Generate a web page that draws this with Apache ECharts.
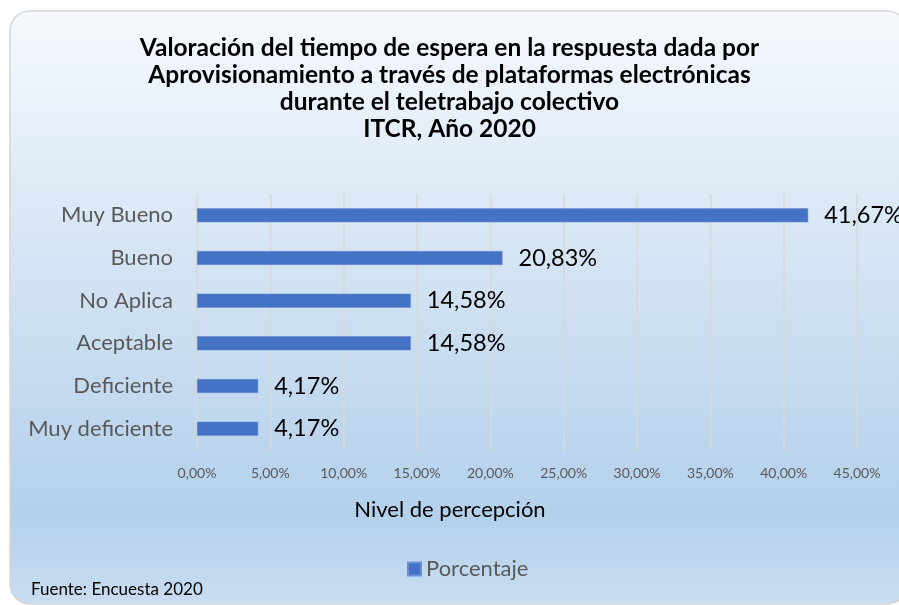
<!DOCTYPE html>
<html>
<head>
<meta charset="utf-8">
<script src="https://cdn.jsdelivr.net/npm/echarts@6/dist/echarts.min.js"></script>
<style>
  html, body { margin: 0; padding: 0; background: #fff; }
  #chart { width: 899px; height: 605px; }
</style>
</head>
<body>
<div id="chart"></div>
<script>
// Data
const categories = ['Muy Bueno', 'Bueno', 'No Aplica', 'Aceptable', 'Deficiente', 'Muy deficiente'];
const porcentaje = [41.67, 20.83, 14.58, 14.58, 4.17, 4.17];
const titleLines = [
  'Valoración del tiempo de espera en la respuesta dada por',
  'Aprovisionamiento a través de plataformas electrónicas',
  'durante el teletrabajo colectivo',
  'ITCR, Año 2020'
];
const seriesName = 'Porcentaje';
const axisName = 'Nivel de percepción';
const sourceNote = 'Fuente: Encuesta 2020';

const FONT = 'Lato, "Open Sans", sans-serif';
const fmt = v => v.toFixed(2).replace('.', ',') + '%';

const chart = echarts.init(document.getElementById('chart'));

chart.setOption({
  animation: false,
  textStyle: { fontFamily: FONT },
  graphic: [
    {
      type: 'rect',
      z: -10,
      silent: true,
      shape: { x: 10, y: 11, width: 897, height: 593, r: 20 },
      style: {
        fill: new echarts.graphic.LinearGradient(0, 0, 0, 1, [
          { offset: 0, color: '#F6F9FD' },
          { offset: 0.4, color: '#D6E5F4' },
          { offset: 0.85, color: '#B3D0EB' },
          { offset: 1, color: '#CADDF1' }
        ]),
        stroke: '#D6D6D6',
        lineWidth: 1.5
      }
    },
    {
      type: 'text',
      left: 31,
      top: 581,
      style: { text: sourceNote, fontSize: 17, fill: '#000', fontFamily: FONT }
    }
  ],
  title: {
    text: titleLines.join('\n'),
    left: 'center',
    top: 30,
    padding: [5, 0, 5, 18],
    textStyle: {
      fontSize: 24.5,
      fontWeight: 'bold',
      color: '#000',
      lineHeight: 26.8,
      fontFamily: FONT
    }
  },
  legend: {
    data: [seriesName],
    bottom: 20,
    left: 402,
    icon: 'rect',
    itemWidth: 13,
    itemHeight: 13,
    textStyle: { fontSize: 22, color: '#595959', fontFamily: FONT }
  },
  grid: { left: 197, right: 42, top: 194, bottom: 155, containLabel: false },
  xAxis: {
    type: 'value',
    min: 0,
    max: 45,
    interval: 5,
    name: axisName,
    nameLocation: 'center',
    nameGap: 49,
    nameTextStyle: { fontSize: 22, color: '#000', fontFamily: FONT, padding: [0, 154, 0, 0] },
    axisLine: { show: false },
    axisTick: { show: false },
    axisLabel: {
      margin: 16,
      fontSize: 14,
      color: '#595959',
      formatter: v => fmt(v)
    },
    splitLine: { lineStyle: { color: '#D9D9D9', width: 1.5 } }
  },
  yAxis: {
    type: 'category',
    data: categories,
    inverse: true,
    axisLine: { show: false },
    axisTick: { show: false },
    axisLabel: { margin: 24, fontSize: 22, color: '#595959' }
  },
  series: [
    {
      name: seriesName,
      type: 'bar',
      data: porcentaje,
      barWidth: 14,
      itemStyle: { color: '#4472C4', borderColor: '#6A8FD3', borderWidth: 0.5 },
      label: {
        show: true,
        position: 'right',
        distance: 16,
        fontSize: 23.5,
        color: '#000',
        formatter: p => fmt(p.value)
      }
    }
  ]
});
</script>
</body>
</html>
